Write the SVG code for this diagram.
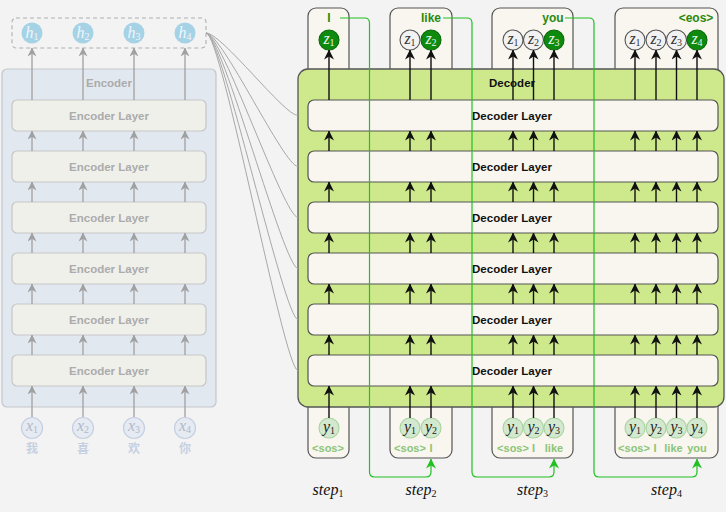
<svg xmlns="http://www.w3.org/2000/svg" width="726" height="512" viewBox="0 0 726 512">
<defs>
<marker id="ag" viewBox="0 0 10 10" refX="9.5" refY="5" markerWidth="9" markerHeight="9" markerUnits="userSpaceOnUse" orient="auto"><path d="M0,0 L10,5 L0,10 L3,5 z" fill="#a0a0a0"/></marker>
<marker id="ab" viewBox="0 0 10 10" refX="9.5" refY="5" markerWidth="10" markerHeight="10" markerUnits="userSpaceOnUse" orient="auto"><path d="M0,0 L10,5 L0,10 L3,5 z" fill="#111"/></marker>
<marker id="agr" viewBox="0 0 10 10" refX="9.5" refY="5" markerWidth="10" markerHeight="10" markerUnits="userSpaceOnUse" orient="auto"><path d="M0,0 L10,5 L0,10 L3,5 z" fill="#22c022"/></marker>
<style>
.enc{fill:#e2e8f0;stroke:#c3c7cc;stroke-width:1.2}
.el{fill:#f0f0eb;stroke:#c6c6c6;stroke-width:1.2}
.et{font:bold 11.5px "Liberation Sans",Arial,sans-serif;fill:#ababab;text-anchor:middle}
.dec{fill:#cde98c;stroke:#555;stroke-width:1.3}
.dl{fill:#f8f6ef;stroke:#555;stroke-width:1.2}
.dt{font:bold 11.5px "Liberation Sans",Arial,sans-serif;fill:#111;text-anchor:middle}
.col{fill:#f8f6ef;stroke:#555;stroke-width:1.2}
.ga{stroke:#a0a0a0;stroke-width:1.3;marker-end:url(#ag)}
.ba{stroke:#111;stroke-width:1.4;marker-end:url(#ab)}
.gl{stroke:#22c022;stroke-width:1.2;fill:none}
.cl{stroke:#a8a8a8;stroke-width:1;fill:none}
.m{font-family:"Liberation Serif","DejaVu Serif",serif;font-style:italic;font-size:16px;text-anchor:middle}
.sub{font-style:normal;font-size:10px}
.hc{fill:#a6d2e6}
.xc{fill:#e6eaf2;stroke:#c5cfe0;stroke-width:1.2}
.zg{fill:#f2f2f2;stroke:#555;stroke-width:1.1}
.zG{fill:#0e8a0e;stroke:#0a6a0a;stroke-width:1.1}
.yc{fill:#d3e9cf;stroke:#a9d3a0;stroke-width:1.1}
.lt{font:bold 12px "Liberation Sans",Arial,sans-serif;fill:#2a8a10;text-anchor:middle}
.bt{font:bold 11px "Liberation Sans",Arial,sans-serif;fill:#8cc47a;text-anchor:middle}
.cn{font:bold 12px "Noto Sans CJK SC","Noto Sans CJK JP",sans-serif;fill:#c6d0e2;text-anchor:middle}
.st{font-family:"Liberation Serif","DejaVu Serif",serif;font-style:italic;font-size:16px;fill:#111;text-anchor:middle}
</style>
</defs>
<rect width="726" height="512" fill="#f3f3f3"/>

<g id="encoder">
<rect class="enc" x="2" y="69" width="214" height="338" rx="5"/>
<text class="et" x="109" y="87" font-size="12">Encoder</text>
</g>
<g id="enc-layers">
<rect class="el" x="12" y="100" width="194" height="31" rx="5"/><text class="et" x="109" y="119.5">Encoder Layer</text>
<rect class="el" x="12" y="151" width="194" height="31" rx="5"/><text class="et" x="109" y="170.5">Encoder Layer</text>
<rect class="el" x="12" y="202" width="194" height="31" rx="5"/><text class="et" x="109" y="221.5">Encoder Layer</text>
<rect class="el" x="12" y="253" width="194" height="31" rx="5"/><text class="et" x="109" y="272.5">Encoder Layer</text>
<rect class="el" x="12" y="304" width="194" height="31" rx="5"/><text class="et" x="109" y="323.5">Encoder Layer</text>
<rect class="el" x="12" y="355" width="194" height="31" rx="5"/><text class="et" x="109" y="374.5">Encoder Layer</text>
</g>
<g id="h-states">
<rect x="12" y="18" width="194" height="30" rx="4" fill="none" stroke="#b0b0b0" stroke-width="1.1" stroke-dasharray="4 3"/>
<circle class="hc" cx="32" cy="33" r="10.5"/><text class="m" x="32" y="38" fill="#eef7fc">h<tspan class="sub" dy="2">1</tspan></text>
<circle class="hc" cx="83" cy="33" r="10.5"/><text class="m" x="83" y="38" fill="#eef7fc">h<tspan class="sub" dy="2">2</tspan></text>
<circle class="hc" cx="134" cy="33" r="10.5"/><text class="m" x="134" y="38" fill="#eef7fc">h<tspan class="sub" dy="2">3</tspan></text>
<circle class="hc" cx="185" cy="33" r="10.5"/><text class="m" x="185" y="38" fill="#eef7fc">h<tspan class="sub" dy="2">4</tspan></text>
</g>
<g id="x-inputs">
<circle class="xc" cx="32" cy="428" r="10.5"/><text class="m" x="32" y="431" fill="#b0b8c8">x<tspan class="sub" dy="2">1</tspan></text>
<circle class="xc" cx="83" cy="428" r="10.5"/><text class="m" x="83" y="431" fill="#b0b8c8">x<tspan class="sub" dy="2">2</tspan></text>
<circle class="xc" cx="134" cy="428" r="10.5"/><text class="m" x="134" y="431" fill="#b0b8c8">x<tspan class="sub" dy="2">3</tspan></text>
<circle class="xc" cx="185" cy="428" r="10.5"/><text class="m" x="185" y="431" fill="#b0b8c8">x<tspan class="sub" dy="2">4</tspan></text>
<text class="cn" x="32" y="453">我</text>
<text class="cn" x="83" y="453">喜</text>
<text class="cn" x="134" y="453">欢</text>
<text class="cn" x="185" y="453">你</text>
</g>

<g id="step-columns">
<rect class="col" x="308" y="8" width="41" height="450" rx="8"/>
<rect class="col" x="390" y="8" width="62" height="450" rx="8"/>
<rect class="col" x="492" y="8" width="81" height="450" rx="8"/>
<rect class="col" x="615" y="8" width="103" height="450" rx="8"/>
</g>
<g id="decoder">
<rect class="dec" x="298" y="69" width="426" height="338" rx="10"/>
<text class="dt" x="512" y="87" font-size="12">Decoder</text>
</g>
<g id="dec-layers">
<rect class="dl" x="308" y="100" width="410" height="31" rx="6"/><text class="dt" x="512" y="119.5">Decoder Layer</text>
<rect class="dl" x="308" y="151" width="410" height="31" rx="6"/><text class="dt" x="512" y="170.5">Decoder Layer</text>
<rect class="dl" x="308" y="202" width="410" height="31" rx="6"/><text class="dt" x="512" y="221.5">Decoder Layer</text>
<rect class="dl" x="308" y="253" width="410" height="31" rx="6"/><text class="dt" x="512" y="272.5">Decoder Layer</text>
<rect class="dl" x="308" y="304" width="410" height="31" rx="6"/><text class="dt" x="512" y="323.5">Decoder Layer</text>
<rect class="dl" x="308" y="355" width="410" height="31" rx="6"/><text class="dt" x="512" y="374.5">Decoder Layer</text>
</g>

<g id="z-outputs">
<circle class="zG" cx="329" cy="40" r="10"/><text class="m" x="329" y="43.5" fill="#e8f5e8">z<tspan class="sub" dy="2">1</tspan></text>
<circle class="zg" cx="410" cy="40" r="10"/><text class="m" x="410" y="43.5" fill="#333">z<tspan class="sub" dy="2">1</tspan></text>
<circle class="zG" cx="431" cy="40" r="10"/><text class="m" x="431" y="43.5" fill="#e8f5e8">z<tspan class="sub" dy="2">2</tspan></text>
<circle class="zg" cx="513" cy="40" r="10"/><text class="m" x="513" y="43.5" fill="#333">z<tspan class="sub" dy="2">1</tspan></text>
<circle class="zg" cx="533.5" cy="40" r="10"/><text class="m" x="533.5" y="43.5" fill="#333">z<tspan class="sub" dy="2">2</tspan></text>
<circle class="zG" cx="554" cy="40" r="10"/><text class="m" x="554" y="43.5" fill="#e8f5e8">z<tspan class="sub" dy="2">3</tspan></text>
<circle class="zg" cx="635" cy="40" r="10"/><text class="m" x="635" y="43.5" fill="#333">z<tspan class="sub" dy="2">1</tspan></text>
<circle class="zg" cx="656" cy="40" r="10"/><text class="m" x="656" y="43.5" fill="#333">z<tspan class="sub" dy="2">2</tspan></text>
<circle class="zg" cx="676.5" cy="40" r="10"/><text class="m" x="676.5" y="43.5" fill="#333">z<tspan class="sub" dy="2">3</tspan></text>
<circle class="zG" cx="697" cy="40" r="10"/><text class="m" x="697" y="43.5" fill="#e8f5e8">z<tspan class="sub" dy="2">4</tspan></text>
<text class="lt" x="329" y="22">I</text>
<text class="lt" x="431" y="22">like</text>
<text class="lt" x="553" y="22">you</text>
<text class="lt" x="696" y="22" font-size="11">&lt;eos&gt;</text>
</g>
<g id="y-inputs">
<circle class="yc" cx="329" cy="428" r="10"/><text class="m" x="329" y="432" fill="#222">y<tspan class="sub" dy="2">1</tspan></text>
<circle class="yc" cx="410" cy="428" r="10"/><text class="m" x="410" y="432" fill="#222">y<tspan class="sub" dy="2">1</tspan></text>
<circle class="yc" cx="431" cy="428" r="10"/><text class="m" x="431" y="432" fill="#222">y<tspan class="sub" dy="2">2</tspan></text>
<circle class="yc" cx="513" cy="428" r="10"/><text class="m" x="513" y="432" fill="#222">y<tspan class="sub" dy="2">1</tspan></text>
<circle class="yc" cx="533.5" cy="428" r="10"/><text class="m" x="533.5" y="432" fill="#222">y<tspan class="sub" dy="2">2</tspan></text>
<circle class="yc" cx="554" cy="428" r="10"/><text class="m" x="554" y="432" fill="#222">y<tspan class="sub" dy="2">3</tspan></text>
<circle class="yc" cx="635" cy="428" r="10"/><text class="m" x="635" y="432" fill="#222">y<tspan class="sub" dy="2">1</tspan></text>
<circle class="yc" cx="656" cy="428" r="10"/><text class="m" x="656" y="432" fill="#222">y<tspan class="sub" dy="2">2</tspan></text>
<circle class="yc" cx="676.5" cy="428" r="10"/><text class="m" x="676.5" y="432" fill="#222">y<tspan class="sub" dy="2">3</tspan></text>
<circle class="yc" cx="697" cy="428" r="10"/><text class="m" x="697" y="432" fill="#222">y<tspan class="sub" dy="2">4</tspan></text>
<text class="bt" x="328" y="452">&lt;sos&gt;</text>
<text class="bt" x="410" y="452">&lt;sos&gt;</text><text class="bt" x="431" y="452">I</text>
<text class="bt" x="513" y="452">&lt;sos&gt;</text><text class="bt" x="533.5" y="452">I</text><text class="bt" x="554" y="452">like</text>
<text class="bt" x="634" y="452">&lt;sos&gt;</text><text class="bt" x="655" y="452">I</text><text class="bt" x="673.5" y="452">like</text><text class="bt" x="697" y="452">you</text>
</g>
<g id="step-labels">
<text class="st" x="328" y="495">step<tspan class="sub" font-size="11" dy="2">1</tspan></text>
<text class="st" x="421" y="495">step<tspan class="sub" font-size="11" dy="2">2</tspan></text>
<text class="st" x="532.5" y="495">step<tspan class="sub" font-size="11" dy="2">3</tspan></text>
<text class="st" x="666.5" y="495">step<tspan class="sub" font-size="11" dy="2">4</tspan></text>
</g>

<g id="connectors">
<g id="enc-arrows">
<line class="ga" x1="32" y1="417" x2="32" y2="386"/><line class="ga" x1="83" y1="417" x2="83" y2="386"/><line class="ga" x1="134" y1="417" x2="134" y2="386"/><line class="ga" x1="185" y1="417" x2="185" y2="386"/>
<line class="ga" x1="32" y1="355" x2="32" y2="335"/><line class="ga" x1="83" y1="355" x2="83" y2="335"/><line class="ga" x1="134" y1="355" x2="134" y2="335"/><line class="ga" x1="185" y1="355" x2="185" y2="335"/>
<line class="ga" x1="32" y1="304" x2="32" y2="284"/><line class="ga" x1="83" y1="304" x2="83" y2="284"/><line class="ga" x1="134" y1="304" x2="134" y2="284"/><line class="ga" x1="185" y1="304" x2="185" y2="284"/>
<line class="ga" x1="32" y1="253" x2="32" y2="233"/><line class="ga" x1="83" y1="253" x2="83" y2="233"/><line class="ga" x1="134" y1="253" x2="134" y2="233"/><line class="ga" x1="185" y1="253" x2="185" y2="233"/>
<line class="ga" x1="32" y1="202" x2="32" y2="182"/><line class="ga" x1="83" y1="202" x2="83" y2="182"/><line class="ga" x1="134" y1="202" x2="134" y2="182"/><line class="ga" x1="185" y1="202" x2="185" y2="182"/>
<line class="ga" x1="32" y1="151" x2="32" y2="131"/><line class="ga" x1="83" y1="151" x2="83" y2="131"/><line class="ga" x1="134" y1="151" x2="134" y2="131"/><line class="ga" x1="185" y1="151" x2="185" y2="131"/>
<line class="ga" x1="32" y1="100" x2="32" y2="48"/><line class="ga" x1="83" y1="100" x2="83" y2="48"/><line class="ga" x1="134" y1="100" x2="134" y2="48"/><line class="ga" x1="185" y1="100" x2="185" y2="48"/>
</g>
<g id="cross-links">
<path class="cl" d="M206,33 C222,33 284,115.5 298,115.5"/>
<path class="cl" d="M206,33 C222,33 284,166.5 298,166.5"/>
<path class="cl" d="M206,33 C222,33 284,217.5 298,217.5"/>
<path class="cl" d="M206,33 C222,33 284,268.5 298,268.5"/>
<path class="cl" d="M206,33 C222,33 284,319.5 298,319.5"/>
<path class="cl" d="M206,33 C222,33 284,370.5 298,370.5"/>
</g>
<g id="dec-arrows">
<line class="ba" x1="329" y1="100" x2="329" y2="50"/><line class="ba" x1="410" y1="100" x2="410" y2="50"/><line class="ba" x1="431" y1="100" x2="431" y2="50"/><line class="ba" x1="513" y1="100" x2="513" y2="50"/><line class="ba" x1="533.5" y1="100" x2="533.5" y2="50"/><line class="ba" x1="554" y1="100" x2="554" y2="50"/><line class="ba" x1="635" y1="100" x2="635" y2="50"/><line class="ba" x1="656" y1="100" x2="656" y2="50"/><line class="ba" x1="676.5" y1="100" x2="676.5" y2="50"/><line class="ba" x1="697" y1="100" x2="697" y2="50"/>
<line class="ba" x1="329" y1="151" x2="329" y2="131"/><line class="ba" x1="410" y1="151" x2="410" y2="131"/><line class="ba" x1="431" y1="151" x2="431" y2="131"/><line class="ba" x1="513" y1="151" x2="513" y2="131"/><line class="ba" x1="533.5" y1="151" x2="533.5" y2="131"/><line class="ba" x1="554" y1="151" x2="554" y2="131"/><line class="ba" x1="635" y1="151" x2="635" y2="131"/><line class="ba" x1="656" y1="151" x2="656" y2="131"/><line class="ba" x1="676.5" y1="151" x2="676.5" y2="131"/><line class="ba" x1="697" y1="151" x2="697" y2="131"/>
<line class="ba" x1="329" y1="202" x2="329" y2="182"/><line class="ba" x1="410" y1="202" x2="410" y2="182"/><line class="ba" x1="431" y1="202" x2="431" y2="182"/><line class="ba" x1="513" y1="202" x2="513" y2="182"/><line class="ba" x1="533.5" y1="202" x2="533.5" y2="182"/><line class="ba" x1="554" y1="202" x2="554" y2="182"/><line class="ba" x1="635" y1="202" x2="635" y2="182"/><line class="ba" x1="656" y1="202" x2="656" y2="182"/><line class="ba" x1="676.5" y1="202" x2="676.5" y2="182"/><line class="ba" x1="697" y1="202" x2="697" y2="182"/>
<line class="ba" x1="329" y1="253" x2="329" y2="233"/><line class="ba" x1="410" y1="253" x2="410" y2="233"/><line class="ba" x1="431" y1="253" x2="431" y2="233"/><line class="ba" x1="513" y1="253" x2="513" y2="233"/><line class="ba" x1="533.5" y1="253" x2="533.5" y2="233"/><line class="ba" x1="554" y1="253" x2="554" y2="233"/><line class="ba" x1="635" y1="253" x2="635" y2="233"/><line class="ba" x1="656" y1="253" x2="656" y2="233"/><line class="ba" x1="676.5" y1="253" x2="676.5" y2="233"/><line class="ba" x1="697" y1="253" x2="697" y2="233"/>
<line class="ba" x1="329" y1="304" x2="329" y2="284"/><line class="ba" x1="410" y1="304" x2="410" y2="284"/><line class="ba" x1="431" y1="304" x2="431" y2="284"/><line class="ba" x1="513" y1="304" x2="513" y2="284"/><line class="ba" x1="533.5" y1="304" x2="533.5" y2="284"/><line class="ba" x1="554" y1="304" x2="554" y2="284"/><line class="ba" x1="635" y1="304" x2="635" y2="284"/><line class="ba" x1="656" y1="304" x2="656" y2="284"/><line class="ba" x1="676.5" y1="304" x2="676.5" y2="284"/><line class="ba" x1="697" y1="304" x2="697" y2="284"/>
<line class="ba" x1="329" y1="355" x2="329" y2="335"/><line class="ba" x1="410" y1="355" x2="410" y2="335"/><line class="ba" x1="431" y1="355" x2="431" y2="335"/><line class="ba" x1="513" y1="355" x2="513" y2="335"/><line class="ba" x1="533.5" y1="355" x2="533.5" y2="335"/><line class="ba" x1="554" y1="355" x2="554" y2="335"/><line class="ba" x1="635" y1="355" x2="635" y2="335"/><line class="ba" x1="656" y1="355" x2="656" y2="335"/><line class="ba" x1="676.5" y1="355" x2="676.5" y2="335"/><line class="ba" x1="697" y1="355" x2="697" y2="335"/>
<line class="ba" x1="329" y1="418" x2="329" y2="386"/><line class="ba" x1="410" y1="418" x2="410" y2="386"/><line class="ba" x1="431" y1="418" x2="431" y2="386"/><line class="ba" x1="513" y1="418" x2="513" y2="386"/><line class="ba" x1="533.5" y1="418" x2="533.5" y2="386"/><line class="ba" x1="554" y1="418" x2="554" y2="386"/><line class="ba" x1="635" y1="418" x2="635" y2="386"/><line class="ba" x1="656" y1="418" x2="656" y2="386"/><line class="ba" x1="676.5" y1="418" x2="676.5" y2="386"/><line class="ba" x1="697" y1="418" x2="697" y2="386"/>
</g>
<g id="feedback">
<path class="gl" marker-end="url(#agr)" d="M340,18 H364.5 Q369.5,18 369.5,23 V472 Q369.5,477 374.5,477 H426 Q431,477 431,472 V459"/>
<path class="gl" marker-end="url(#agr)" d="M443,18 H467 Q472,18 472,23 V472 Q472,477 477,477 H549 Q554,477 554,472 V459"/>
<path class="gl" marker-end="url(#agr)" d="M565,18 H589 Q594,18 594,23 V472 Q594,477 599,477 H692 Q697,477 697,472 V459"/>
</g>
</g>
</svg>
